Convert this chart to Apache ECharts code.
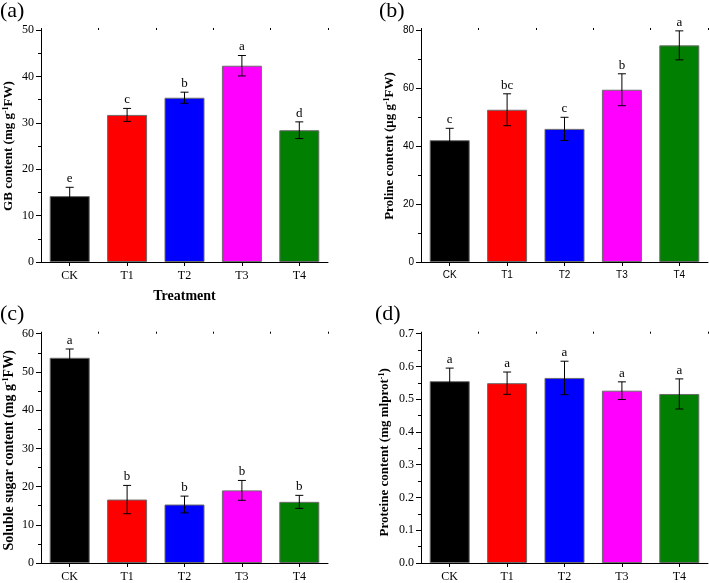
<!DOCTYPE html>
<html>
<head>
<meta charset="utf-8">
<script src="https://cdn.jsdelivr.net/npm/echarts@6/dist/echarts.min.js"></script>
<style>
html,body{margin:0;padding:0;background:#fff;}
#c{width:709px;height:583px;}
</style>
</head>
<body>
<div id="c"></div>
<script>
const categories = ['CK', 'T1', 'T2', 'T3', 'T4'];
const barColors = ['#000000', '#ff0000', '#0000ff', '#ff00ff', '#007f00'];

const gbMean = [14.2, 31.7, 35.4, 42.3, 28.4];
const gbErr = [1.9, 1.4, 1.2, 2.2, 1.8];
const gbLetters = ['e', 'c', 'b', 'a', 'd'];

const prolineMean = [42.0, 52.5, 45.9, 59.4, 74.7];
const prolineErr = [4.1, 5.5, 4.0, 5.5, 5.0];
const prolineLetters = ['c', 'bc', 'c', 'b', 'a'];

const sugarMean = [53.7, 16.6, 15.3, 19.0, 16.0];
const sugarErr = [2.3, 3.7, 2.2, 2.6, 1.7];
const sugarLetters = ['a', 'b', 'b', 'b', 'b'];

const proteinMean = [0.555, 0.549, 0.565, 0.526, 0.516];
const proteinErr = [0.040, 0.034, 0.051, 0.027, 0.046];
const proteinLetters = ['a', 'a', 'a', 'a', 'a'];

const SERIF = '"Liberation Serif", "Times New Roman", serif';
const SANS = '"Liberation Sans", Arial, sans-serif';

const panels = [
  { mean: gbMean, err: gbErr, letters: gbLetters, max: 50, interval: 10, dec: 0,
    grid: { left: 41, top: 30, width: 287, height: 232 }, tickFont: SERIF, tickSize: 12,
    title: ['GB content (mg g', '-1', 'FW)'], titleSize: 13, titleGap: 25, titlePad: [0, 0, 0, 0],
    xName: 'Treatment', label: '(a)', lx: 0, ly: 0 },
  { mean: prolineMean, err: prolineErr, letters: prolineLetters, max: 80, interval: 20, dec: 0,
    grid: { left: 421, top: 30, width: 287, height: 232 }, tickFont: SANS, tickSize: 10,
    title: ['Proline content (\u03bcg g', '-1', 'FW)'], titleSize: 13, titleGap: 24, titlePad: [0, 0, 0, 0],
    xName: '', label: '(b)', lx: 379, ly: 0 },
  { mean: sugarMean, err: sugarErr, letters: sugarLetters, max: 60, interval: 10, dec: 0,
    grid: { left: 41, top: 333.7, width: 287, height: 232 }, tickFont: SERIF, tickSize: 12,
    title: ['Soluble sugar content (mg g', '-1', 'FW)'], titleSize: 14, titleGap: 25, titlePad: [0, 4, 0, 0],
    xName: '', label: '(c)', lx: 0, ly: 303 },
  { mean: proteinMean, err: proteinErr, letters: proteinLetters, max: 0.7, interval: 0.1, dec: 1,
    grid: { left: 421, top: 333.7, width: 287, height: 232 }, tickFont: SERIF, tickSize: 12,
    title: ['Proteine content (mg mlprot', '-1', ')'], titleSize: 13, titleGap: 29, titlePad: [0, 8, 0, 0],
    xName: '', label: '(d)', lx: 375, ly: 303 }
];

const grids = [], xAxes = [], yAxes = [], series = [], graphics = [];

panels.forEach((p, i) => {
  grids.push(Object.assign({ containLabel: false }, p.grid));
  const xi = xAxes.length;
  xAxes.push({
    type: 'category', gridIndex: i, data: categories,
    axisLine: { show: true, lineStyle: { color: '#000', width: 1 } },
    axisTick: { show: true, alignWithLabel: true, length: 4, lineStyle: { color: '#000' } },
    axisLabel: { fontFamily: p.tickFont, fontSize: p.tickSize, color: '#000', margin: 8 },
    splitLine: { show: false },
    name: p.xName, nameLocation: 'middle', nameGap: 27,
    nameTextStyle: { fontFamily: SERIF, fontWeight: 'bold', fontSize: 14, color: '#000' }
  });
  xAxes.push({
    type: 'category', gridIndex: i, data: categories,
    axisLine: { show: false },
    axisTick: { show: true, alignWithLabel: false, length: 2, lineStyle: { color: '#000' } },
    axisLabel: { show: false }, splitLine: { show: false }
  });
  yAxes.push({
    type: 'value', gridIndex: i, min: 0, max: p.max, interval: p.interval,
    axisLine: { show: true, lineStyle: { color: '#000', width: 1 } },
    axisTick: { show: true, length: 5, lineStyle: { color: '#000' } },
    minorTick: { show: true, splitNumber: 2, length: 3, lineStyle: { color: '#000' } },
    splitLine: { show: false },
    axisLabel: { fontFamily: p.tickFont, fontSize: p.tickSize, color: '#000', margin: 7,
      formatter: v => v.toFixed(p.dec) },
    name: '{t|' + p.title[0] + '}{s|' + p.title[1] + '}{t|' + p.title[2] + '}',
    nameLocation: 'middle', nameRotate: 90, nameGap: p.titleGap,
    nameTextStyle: {
      padding: p.titlePad,
      rich: {
        t: { fontFamily: SERIF, fontWeight: 'bold', fontSize: p.titleSize, color: '#000' },
        s: { fontFamily: SERIF, fontWeight: 'bold', fontSize: Math.round(p.titleSize * 0.6), color: '#000', verticalAlign: 'top', padding: [0, 0, 6, 0] }
      }
    }
  });
  series.push({
    type: 'bar', xAxisIndex: xi, yAxisIndex: i, barWidth: 40,
    data: p.mean.map((v, k) => ({ value: v, itemStyle: { color: barColors[k] } })),
    itemStyle: { borderColor: '#6b6b6b', borderWidth: 1 },
    silent: true, animation: false
  });
  series.push({
    type: 'custom', xAxisIndex: xi, yAxisIndex: i,
    data: p.mean.map((v, k) => [k, v, p.err[k]]),
    renderItem: (params, api) => {
      const k = api.value(0), m = api.value(1), e = api.value(2);
      const top = api.coord([k, m + e]);
      const bot = api.coord([k, m - e]);
      const cw = 4;
      const ls = { stroke: '#000', lineWidth: 1 };
      return {
        type: 'group',
        children: [
          { type: 'line', shape: { x1: top[0], y1: top[1], x2: bot[0], y2: bot[1] }, style: ls },
          { type: 'line', shape: { x1: top[0] - cw, y1: top[1], x2: top[0] + cw, y2: top[1] }, style: ls },
          { type: 'line', shape: { x1: bot[0] - cw, y1: bot[1], x2: bot[0] + cw, y2: bot[1] }, style: ls },
          { type: 'text', style: { text: p.letters[params.dataIndex], x: top[0], y: top[1] - 2,
              textAlign: 'center', textVerticalAlign: 'bottom', fill: '#000',
              font: '13px ' + SERIF } }
        ]
      };
    },
    silent: true, animation: false, z: 5
  });
  graphics.push({ type: 'text', left: p.lx, top: p.ly,
    style: { text: p.label, font: '22px ' + SERIF, fill: '#000' } });
});

const chart = echarts.init(document.getElementById('c'), null, { renderer: 'canvas' });
chart.setOption({
  animation: false,
  backgroundColor: '#fff',
  grid: grids, xAxis: xAxes, yAxis: yAxes, series: series, graphic: graphics
});
</script>
</body>
</html>
